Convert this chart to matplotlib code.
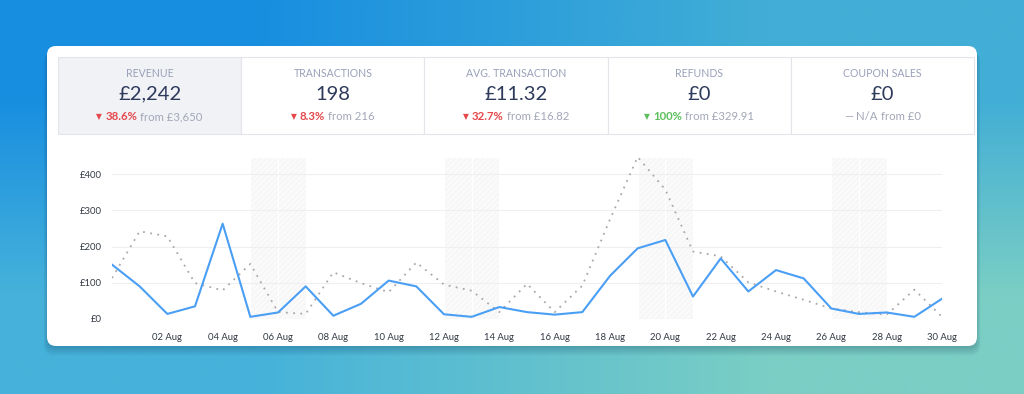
#! /usr/bin/env python3

import numpy as np
import pandas as pd
import matplotlib
matplotlib.use('Agg')
import matplotlib.pyplot as plt
from matplotlib.patches import FancyBboxPatch, Rectangle

# daily revenue, current period (31 Jul - 30 Aug) and previous period
dates = pd.date_range('2017-07-31', '2017-08-30')
revenue = [150, 90, 14, 35, 263, 6, 18, 90, 9, 42,
           106, 90, 13, 6, 33, 19, 12, 19, 119, 195,
           218, 62, 167, 76, 135, 112, 29, 14, 18, 6, 56]
previous = [113, 242, 228, 99, 79, 152, 19, 14, 129, 99,
            74, 156, 95, 78, 19, 97, 19, 92, 275, 447,
            357, 186, 173, 101, 76, 53, 29, 19, 12, 81, 6]
y_ticks = [0, 100, 200, 300, 400]

# KPI cards
kpi_titles = ['REVENUE', 'TRANSACTIONS', 'AVG. TRANSACTION', 'REFUNDS', 'COUPON SALES']
kpi_values = ['£2,242', '198', '£11.32', '£0', '£0']
kpi_marks = ['▼', '▼', '▼', '▼', '—']
kpi_changes = ['38.6%', '8.3%', '32.7%', '100%', 'N/A']
kpi_from = ['from £3,650', 'from 216', 'from £16.82', 'from £329.91', 'from £0']
kpi_kind = ['bad', 'bad', 'bad', 'good', 'none']

FONT = ['Lato', 'DejaVu Sans']
NAVY = '#2e3a5c'
TITLE_GREY = '#99a0b8'
SOFT_GREY = '#a3a7b8'
RED = '#e5474b'
GREEN = '#5cbf5c'
BLUE = '#4a9ff5'

plt.rcParams['hatch.color'] = '#efeff1'
plt.rcParams['hatch.linewidth'] = 0.6

W, H = 1024, 394
fig = plt.figure(figsize=(W / 100, H / 100), dpi=100)

# background gradient + card, drawn in pixel space
bg = fig.add_axes([0, 0, 1, 1])
bg.set_xlim(0, W)
bg.set_ylim(H, 0)
bg.axis('off')
grad = np.array([[[24, 142, 224], [66, 174, 214]],
                 [[70, 178, 218], [122, 206, 196]]]) / 255
bg.imshow(grad, extent=(0, W, H, 0), interpolation='bilinear', aspect='auto', zorder=0)

# soft shadow under the card
for i in range(5):
    bg.add_patch(FancyBboxPatch((47 - i * 0.8, 48 + i), 930 + 1.6 * i, 300 + i * 0.8,
                                boxstyle='round,pad=0,rounding_size=10',
                                facecolor='#0a3050', edgecolor='none', alpha=0.05, zorder=1))
bg.add_patch(FancyBboxPatch((47, 46), 930, 300, boxstyle='round,pad=0,rounding_size=9',
                            facecolor='white', edgecolor='none', zorder=2))

# KPI boxes
box_left, box_top, box_bottom = 58, 57, 134
box_w = (974 - box_left) / len(kpi_titles)
fig.canvas.draw()
renderer = fig.canvas.get_renderer()

for i in range(len(kpi_titles)):
    x0 = box_left + i * box_w
    bg.add_patch(Rectangle((x0, box_top), box_w, box_bottom - box_top,
                           facecolor='#f1f2f6' if i == 0 else 'white',
                           edgecolor='#e3e5ea', linewidth=0.8, zorder=3))
    cx = x0 + box_w / 2
    bg.text(cx, 73, kpi_titles[i], ha='center', va='center', fontsize=7.6,
            color=TITLE_GREY, family=FONT, zorder=4)
    bg.text(cx, 94, kpi_values[i], ha='center', va='center', fontsize=14.5,
            color=NAVY, family=FONT, zorder=4)

    if kpi_kind[i] == 'bad':
        col = RED
    elif kpi_kind[i] == 'good':
        col = GREEN
    else:
        col = SOFT_GREY
    pieces = [(kpi_marks[i], col, 'normal', 5.5 if kpi_kind[i] != 'none' else 8.2),
              (kpi_changes[i], col if kpi_kind[i] != 'none' else SOFT_GREY,
               'bold' if kpi_kind[i] != 'none' else 'normal', 8.2),
              (kpi_from[i], SOFT_GREY, 'normal', 8.2)]
    gaps = [3, 3, 0]
    texts = []
    widths = []
    for s, c, wgt, fs in pieces:
        t = bg.text(0, 116.5, s, ha='left', va='center', fontsize=fs, color=c,
                    fontweight=wgt, family=FONT, zorder=4)
        texts.append(t)
        widths.append(t.get_window_extent(renderer).width)
    total = sum(widths) + sum(gaps)
    x = cx - total / 2
    for t, w, g in zip(texts, widths, gaps):
        t.set_x(x)
        x += w + g

# line chart
ax = fig.add_axes([112 / W, (H - 319) / H, (942 - 112) / W, (319 - 157) / H])
ax.set_facecolor('none')
days = np.arange(len(dates))
ax.set_xlim(days[0], days[-1])
ax.set_ylim(0, max(previous))

for d, day in zip(days, dates):
    if day.dayofweek >= 5:
        ax.axvspan(d, d + 1, facecolor='#f7f7f8', edgecolor='white', linewidth=0.8,
                   hatch='//////', zorder=0)
for yt in y_ticks:
    ax.axhline(yt, color='#eeeff2', linewidth=0.8, zorder=1)

ax.plot(days, previous, color='#a8a8a8', linewidth=1.3, linestyle=(0, (1, 3)), zorder=2)
ax.plot(days, revenue, color=BLUE, linewidth=1.5, zorder=3)

ax.set_yticks(y_ticks)
ax.set_yticklabels(['£%d' % v for v in y_ticks], family=FONT, fontsize=6.8, color='#333a44')
tick_idx = days[2::2]
ax.set_xticks(tick_idx)
ax.set_xticklabels([dates[i].strftime('%d %b') for i in tick_idx], family=FONT,
                   fontsize=6.8, color='#333a44')
ax.tick_params(length=0, pad=7)
ax.tick_params(axis='x', pad=10)
for s in ax.spines.values():
    s.set_visible(False)

plt.savefig('out.png', dpi=100)
